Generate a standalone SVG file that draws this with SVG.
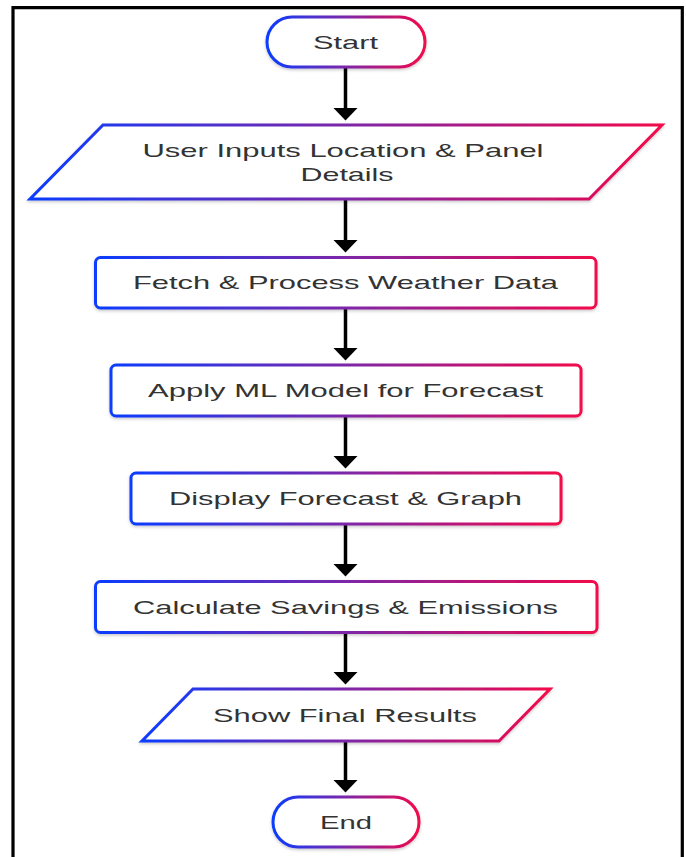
<svg xmlns="http://www.w3.org/2000/svg" width="686" height="857" viewBox="0 0 686 857">
  <defs>
    <linearGradient id="grad" x1="0" y1="0" x2="1" y2="0">
      <stop offset="0" stop-color="#0a3cff"/>
      <stop offset="0.5" stop-color="#7d27a8"/>
      <stop offset="1" stop-color="#f2074a"/>
    </linearGradient>
    <filter id="shadow" x="-10%" y="-20%" width="120%" height="150%">
      <feDropShadow dx="0" dy="1.5" stdDeviation="1.5" flood-color="#000" flood-opacity="0.22"/>
    </filter>
    <marker id="arrow" markerUnits="userSpaceOnUse" markerWidth="26" markerHeight="14" refX="12" refY="12" viewBox="0 0 24 12" orient="auto-start-reverse" overflow="visible">
      <path d="M0,0 L24,0 L12,12 Z" fill="#000"/>
    </marker>
  </defs>
  <style>
    .shape { fill: #fff; stroke: url(#grad); stroke-width: 3; filter: url(#shadow); }
    .label { font-family: "Liberation Sans", Arial, sans-serif; font-size: 18.5px; fill: #333; text-anchor: middle; }
    .conn { stroke: #000; stroke-width: 3.5; fill: none; }
    .head { fill: #000; }
    .frame { fill: none; stroke: #000; stroke-width: 3.2; }
  </style>
  <rect width="686" height="857" fill="#fff"/>
  <path class="frame" d="M13,860 L13,7.7 L682.3,7.7 L682.3,860"/>

  <g id="connectors">
    <line class="conn" x1="345.5" y1="67" x2="345.5" y2="110"/>
    <path class="head" d="M333.5,108 L357.5,108 L345.5,120.5 Z"/>
    <line class="conn" x1="345.5" y1="199" x2="345.5" y2="242"/>
    <path class="head" d="M333.5,240 L357.5,240 L345.5,252.5 Z"/>
    <line class="conn" x1="345.5" y1="308" x2="345.5" y2="350"/>
    <path class="head" d="M333.5,348 L357.5,348 L345.5,360.5 Z"/>
    <line class="conn" x1="345.5" y1="416" x2="345.5" y2="458"/>
    <path class="head" d="M333.5,456 L357.5,456 L345.5,468.5 Z"/>
    <line class="conn" x1="345.5" y1="524" x2="345.5" y2="566"/>
    <path class="head" d="M333.5,564 L357.5,564 L345.5,576.5 Z"/>
    <line class="conn" x1="345.5" y1="633" x2="345.5" y2="674"/>
    <path class="head" d="M333.5,672 L357.5,672 L345.5,684.5 Z"/>
    <line class="conn" x1="345.5" y1="741" x2="345.5" y2="782"/>
    <path class="head" d="M333.5,780 L357.5,780 L345.5,792.5 Z"/>
  </g>

  <g id="start">
    <rect class="shape" x="267" y="17" width="158" height="50" rx="25" ry="25"/>
    <text class="label" x="345.5" y="48.5" textLength="65" lengthAdjust="spacingAndGlyphs">Start</text>
  </g>

  <g id="user-inputs">
    <path class="shape" d="M103,125 L662,125 L589,199 L30,199 Z"/>
    <text class="label" x="343" y="157" textLength="401" lengthAdjust="spacingAndGlyphs">User Inputs Location &amp; Panel</text>
    <text class="label" x="347" y="181" textLength="93" lengthAdjust="spacingAndGlyphs">Details</text>
  </g>

  <g id="fetch">
    <rect class="shape" x="95.5" y="257.5" width="500.5" height="50.5" rx="5"/>
    <text class="label" x="345.5" y="289" textLength="425" lengthAdjust="spacingAndGlyphs">Fetch &amp; Process Weather Data</text>
  </g>

  <g id="apply-ml">
    <rect class="shape" x="111" y="365" width="470" height="51" rx="5"/>
    <text class="label" x="345.5" y="397" textLength="395" lengthAdjust="spacingAndGlyphs">Apply ML Model for Forecast</text>
  </g>

  <g id="display">
    <rect class="shape" x="131" y="473" width="430" height="51" rx="5"/>
    <text class="label" x="345.5" y="505" textLength="353" lengthAdjust="spacingAndGlyphs">Display Forecast &amp; Graph</text>
  </g>

  <g id="calculate">
    <rect class="shape" x="95.5" y="581.5" width="501.5" height="51" rx="5"/>
    <text class="label" x="345.5" y="613.5" textLength="425" lengthAdjust="spacingAndGlyphs">Calculate Savings &amp; Emissions</text>
  </g>

  <g id="show-results">
    <path class="shape" d="M193,689 L550,689 L499,741 L142,741 Z"/>
    <text class="label" x="345" y="721.5" textLength="264" lengthAdjust="spacingAndGlyphs">Show Final Results</text>
  </g>

  <g id="end">
    <rect class="shape" x="273" y="797" width="146" height="50" rx="25" ry="25"/>
    <text class="label" x="346" y="828.5" textLength="52" lengthAdjust="spacingAndGlyphs">End</text>
  </g>
</svg>
